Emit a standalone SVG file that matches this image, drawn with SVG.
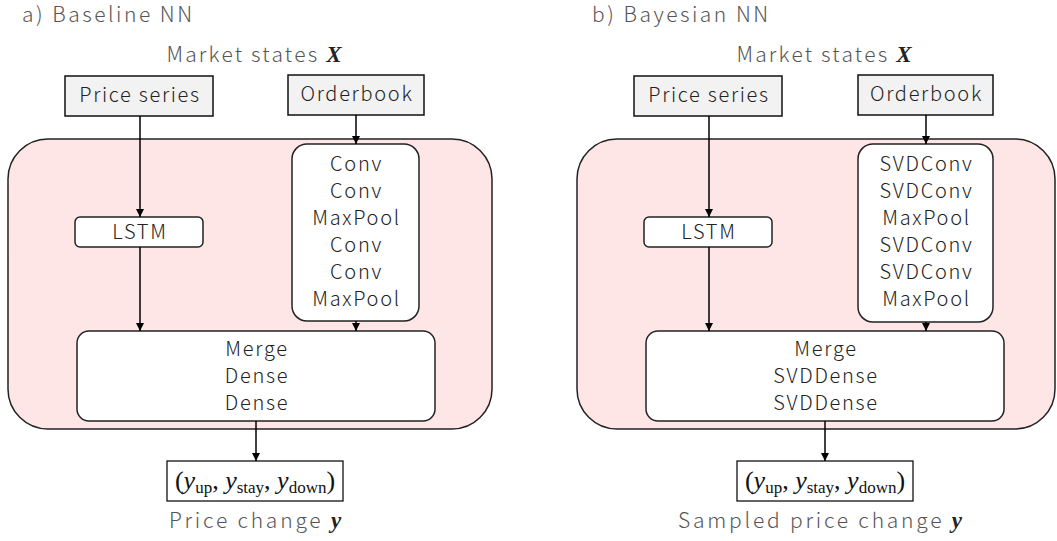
<svg xmlns="http://www.w3.org/2000/svg" width="1057" height="541" viewBox="0 0 1057 541">
  <defs>
    <marker id="arrow" viewBox="0 0 10 10" refX="10" refY="5" markerWidth="8" markerHeight="8" markerUnits="userSpaceOnUse" orient="auto">
      <path d="M0,0 L10,5 L0,10 z" fill="#000"/>
    </marker>
    <style>
      .title { font-family: "Noto Sans CJK JP", "Noto Sans", sans-serif; font-weight: 300; font-size: 21px; letter-spacing: 2.5px; fill: #555; }
      .label { font-family: "Noto Sans CJK JP", "Noto Sans", sans-serif; font-weight: 300; font-size: 21px; letter-spacing: 2.2px; fill: #555; text-anchor: middle; }
      .caption { font-family: "Noto Sans CJK JP", "Noto Sans", sans-serif; font-weight: 300; font-size: 21px; letter-spacing: 2.8px; fill: #555; text-anchor: middle; }
      .node { font-family: "Noto Sans CJK JP", "Noto Sans", sans-serif; font-weight: 300; font-size: 20px; letter-spacing: 1.7px; fill: #222; text-anchor: middle; }
      .math { font-family: "Liberation Serif", "DejaVu Serif", serif; font-style: italic; font-weight: bold; fill: #222; letter-spacing: 0; }
      .formula { font-family: "Liberation Serif", "DejaVu Serif", serif; font-size: 26px; fill: #111; text-anchor: middle; }
      .sub { font-style: normal; font-size: 17px; }
      .outer { fill: #ffe6e6; stroke: #222; stroke-width: 1.5; }
      .input { fill: #f2f2f2; stroke: #111; stroke-width: 1.5; }
      .layer { fill: #fff; stroke: #222; stroke-width: 1.5; }
      .output { fill: #fff; stroke: #111; stroke-width: 1.3; }
      .edge { stroke: #000; stroke-width: 1.5; fill: none; marker-end: url(#arrow); }
    </style>
  </defs>
  <rect width="1057" height="541" fill="#fff"/>

  <!-- Panel a: baseline network -->
  <g id="panel-a">
    <text class="title" x="22" y="22">a) Baseline NN</text>
    <text class="label" x="254" y="62">Market states <tspan class="math" font-size="23">X</tspan></text>

    <g id="a-body">
      <rect class="outer" x="8" y="139" width="484" height="290" rx="40" ry="40"/>
    </g>
    <g id="a-price">
      <rect class="input" x="65" y="76" width="148" height="40"/>
      <text class="node" x="140" y="102">Price series</text>
    </g>
    <g id="a-orderbook">
      <rect class="input" x="288" y="75" width="136" height="40"/>
      <text class="node" x="357" y="101">Orderbook</text>
    </g>
    <g id="a-lstm">
      <rect class="layer" x="75" y="217" width="128" height="30" rx="5" ry="5"/>
      <text class="node" x="140" y="239">LSTM</text>
    </g>
    <g id="a-conv">
      <rect class="layer" x="292" y="144" width="127" height="177" rx="15" ry="15"/>
      <text class="node" x="356.5" y="171">Conv</text>
      <text class="node" x="356.5" y="198">Conv</text>
      <text class="node" x="356.5" y="225">MaxPool</text>
      <text class="node" x="356.5" y="252">Conv</text>
      <text class="node" x="356.5" y="279">Conv</text>
      <text class="node" x="356.5" y="306">MaxPool</text>
    </g>
    <g id="a-merge">
      <rect class="layer" x="77" y="331" width="358" height="90" rx="12" ry="12"/>
      <text class="node" x="257" y="356">Merge</text>
      <text class="node" x="257" y="383">Dense</text>
      <text class="node" x="257" y="410">Dense</text>
    </g>
    <g id="a-output">
      <rect class="output" x="167" y="461" width="176" height="40"/>
      <text class="formula" x="255" y="489">(<tspan font-style="italic">y</tspan><tspan class="sub" dy="4">up</tspan><tspan dy="-4">, </tspan><tspan font-style="italic">y</tspan><tspan class="sub" dy="4">stay</tspan><tspan dy="-4">, </tspan><tspan font-style="italic">y</tspan><tspan class="sub" dy="4">down</tspan><tspan dy="-4">)</tspan></text>
    </g>
    <text class="caption" x="255" y="528">Price change <tspan class="math" font-size="23">y</tspan></text>

    <g id="a-connectors">
      <line class="edge" x1="140" y1="116" x2="140" y2="217"/>
      <line class="edge" x1="140" y1="247" x2="140" y2="331"/>
      <line class="edge" x1="356" y1="115" x2="356" y2="144"/>
      <line class="edge" x1="356" y1="321" x2="356" y2="331"/>
      <line class="edge" x1="256" y1="421" x2="256" y2="461"/>
    </g>
  </g>

  <!-- Panel b: Bayesian network -->
  <g id="panel-b">
    <text class="title" x="592" y="22">b) Bayesian NN</text>
    <text class="label" x="824" y="62">Market states <tspan class="math" font-size="23">X</tspan></text>

    <g id="b-body">
      <rect class="outer" x="577" y="139" width="478" height="290" rx="40" ry="40"/>
    </g>
    <g id="b-price">
      <rect class="input" x="634" y="76" width="148" height="40"/>
      <text class="node" x="709" y="102">Price series</text>
    </g>
    <g id="b-orderbook">
      <rect class="input" x="858" y="75" width="135" height="40"/>
      <text class="node" x="926.5" y="101">Orderbook</text>
    </g>
    <g id="b-lstm">
      <rect class="layer" x="644" y="217" width="128" height="30" rx="5" ry="5"/>
      <text class="node" x="709" y="239">LSTM</text>
    </g>
    <g id="b-conv">
      <rect class="layer" x="858" y="144" width="135" height="178" rx="15" ry="15"/>
      <text class="node" x="926.5" y="171">SVDConv</text>
      <text class="node" x="926.5" y="198">SVDConv</text>
      <text class="node" x="926.5" y="225">MaxPool</text>
      <text class="node" x="926.5" y="252">SVDConv</text>
      <text class="node" x="926.5" y="279">SVDConv</text>
      <text class="node" x="926.5" y="306">MaxPool</text>
    </g>
    <g id="b-merge">
      <rect class="layer" x="646" y="331" width="358" height="90" rx="12" ry="12"/>
      <text class="node" x="826" y="356">Merge</text>
      <text class="node" x="826" y="383">SVDDense</text>
      <text class="node" x="826" y="410">SVDDense</text>
    </g>
    <g id="b-output">
      <rect class="output" x="737" y="461" width="176" height="40"/>
      <text class="formula" x="825" y="489">(<tspan font-style="italic">y</tspan><tspan class="sub" dy="4">up</tspan><tspan dy="-4">, </tspan><tspan font-style="italic">y</tspan><tspan class="sub" dy="4">stay</tspan><tspan dy="-4">, </tspan><tspan font-style="italic">y</tspan><tspan class="sub" dy="4">down</tspan><tspan dy="-4">)</tspan></text>
    </g>
    <text class="caption" x="820" y="528">Sampled price change <tspan class="math" font-size="23">y</tspan></text>

    <g id="b-connectors">
      <line class="edge" x1="709" y1="116" x2="709" y2="217"/>
      <line class="edge" x1="709" y1="247" x2="709" y2="331"/>
      <line class="edge" x1="926" y1="115" x2="926" y2="144"/>
      <line class="edge" x1="926" y1="322" x2="926" y2="331"/>
      <line class="edge" x1="825" y1="421" x2="825" y2="461"/>
    </g>
  </g>
</svg>
